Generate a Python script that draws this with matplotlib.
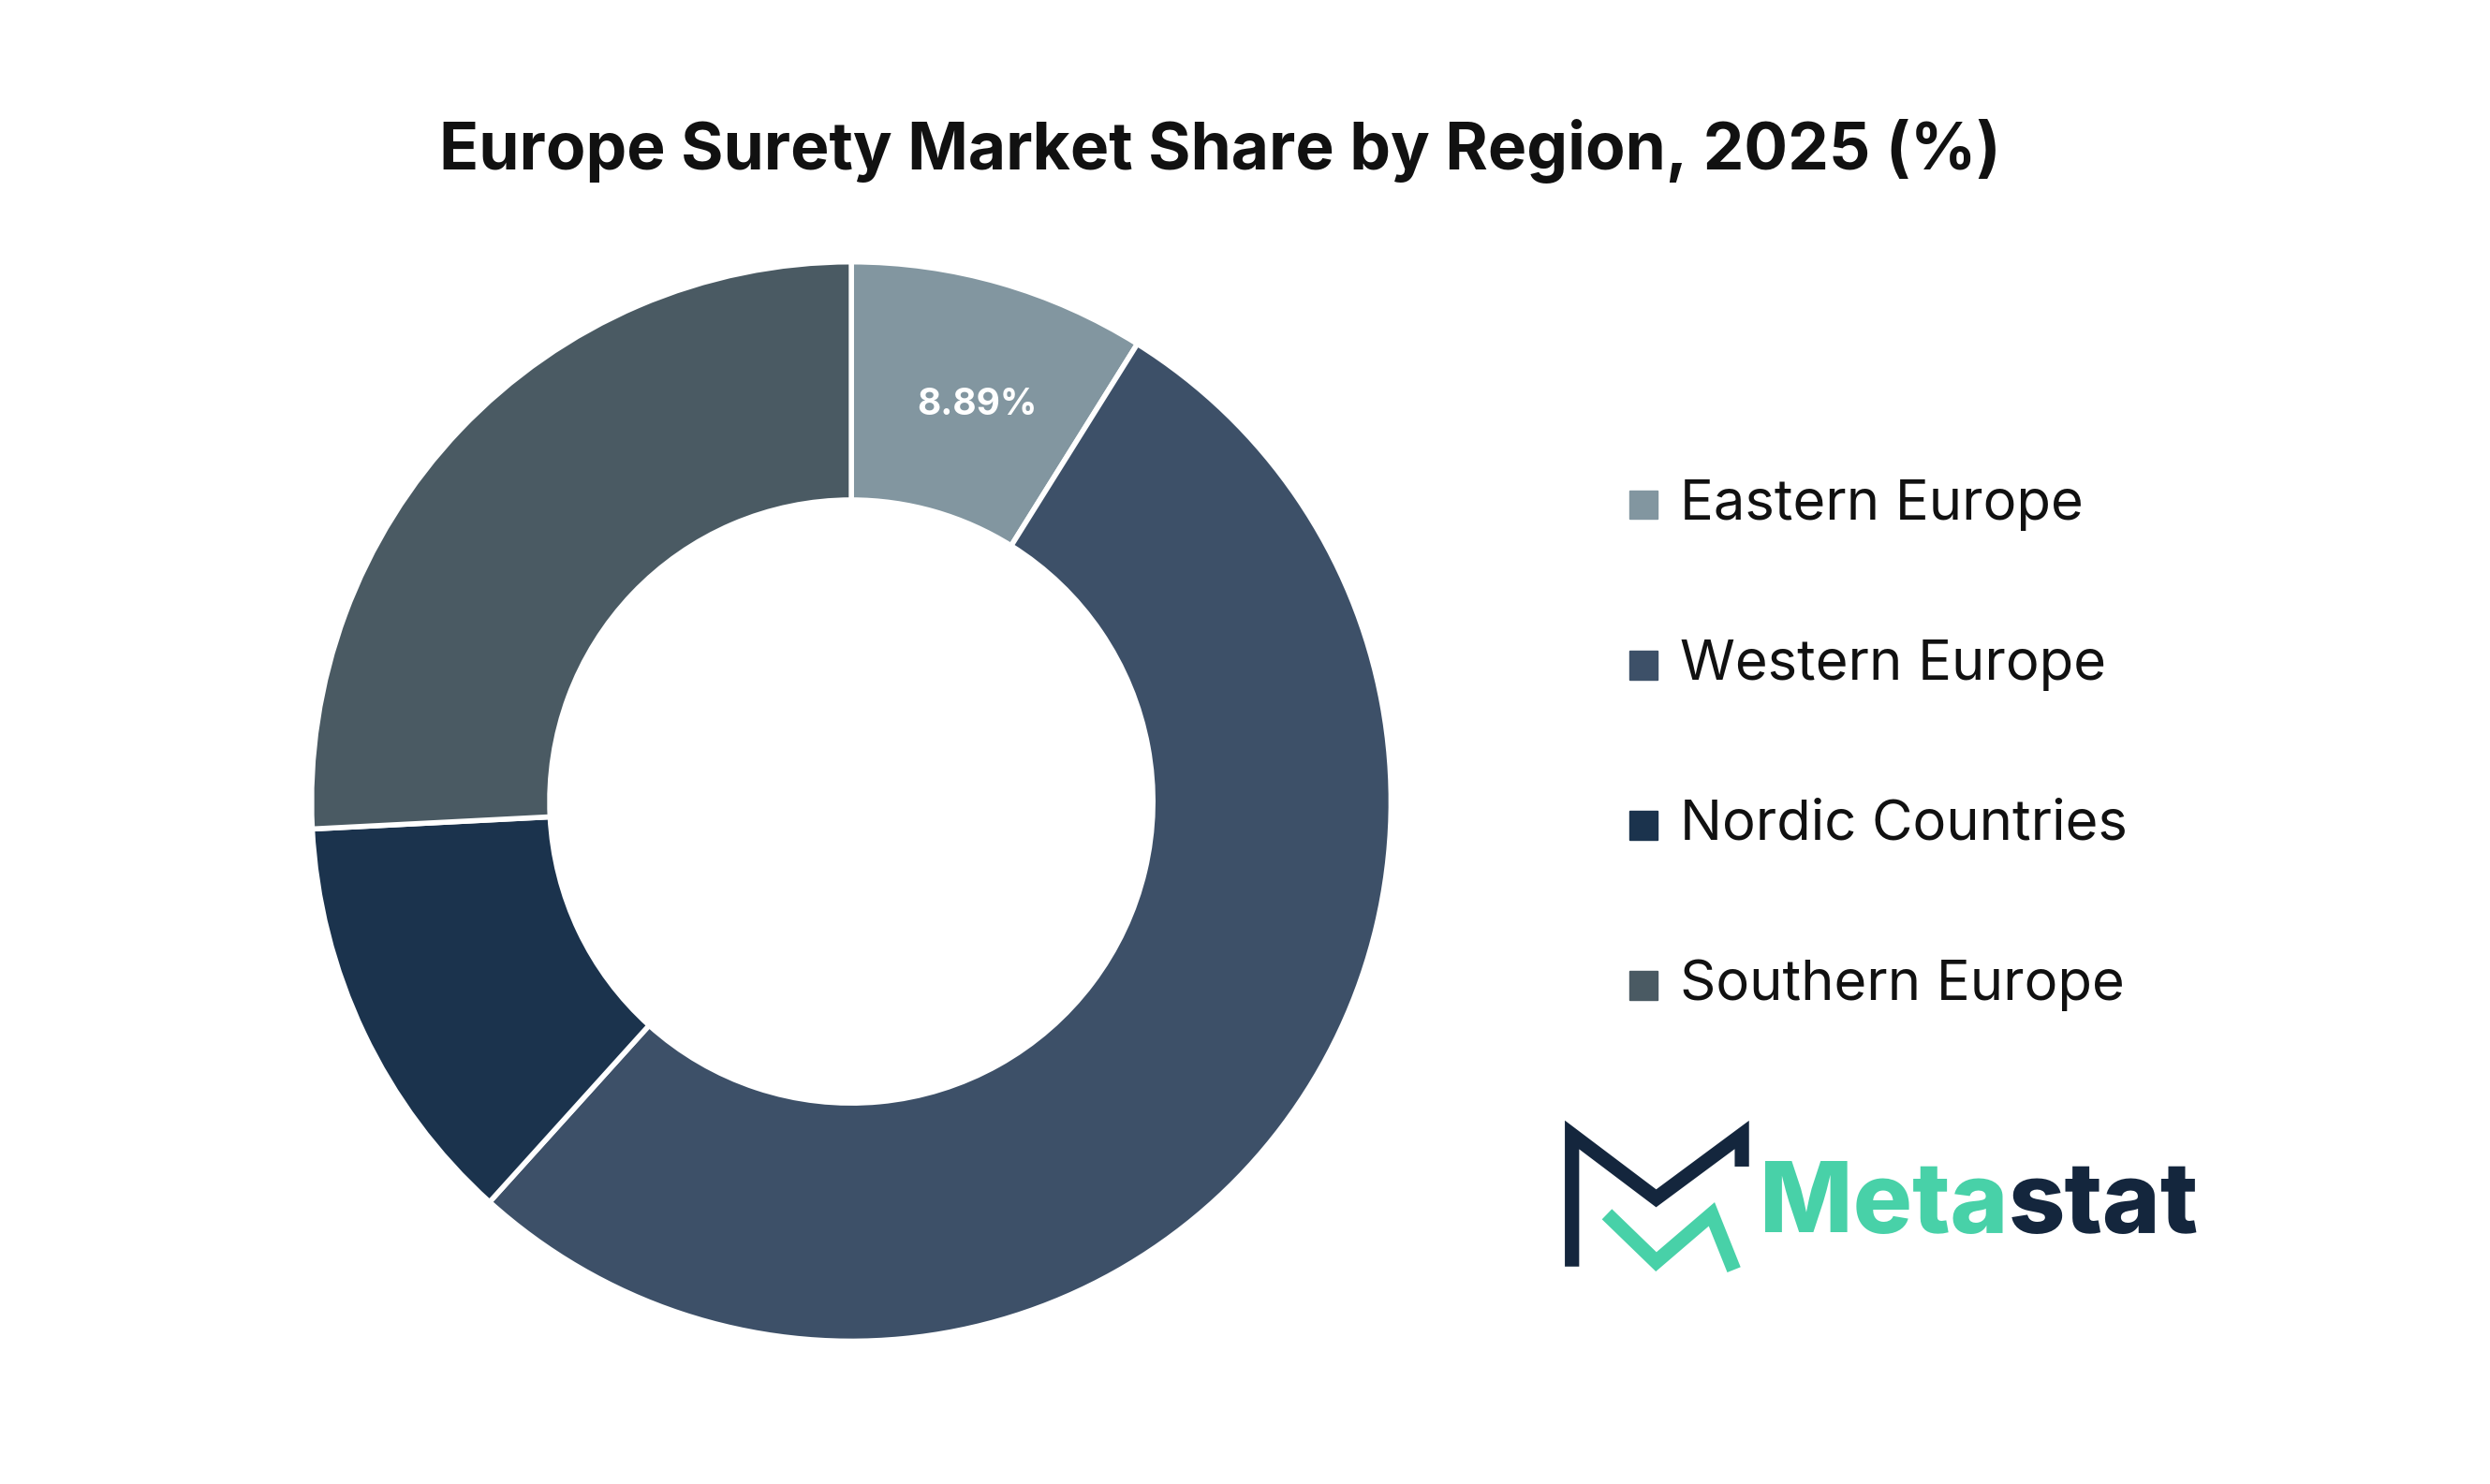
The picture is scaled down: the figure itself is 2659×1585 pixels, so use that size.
import matplotlib.pyplot as plt

plt.rcParams['font.family'] = ['Inter', 'DejaVu Sans']

# Data
regions = ['Eastern Europe', 'Western Europe', 'Nordic Countries', 'Southern Europe']
shares = [8.89, 52.8, 12.5, 25.81]
colors = ['#8296A0', '#3D5068', '#1B334D', '#4A5A63']

W, H = 1568, 935
fig = plt.figure(figsize=(26.59, 15.85), dpi=100)
ax = fig.add_axes([0, 0, 1, 1])


def Y(y):
    # reference pixel row -> data y (y up)
    return H - y


ax.pie(shares, colors=colors, startangle=90, counterclock=False,
       center=(536, Y(505)), radius=340,
       wedgeprops=dict(width=150, edgecolor='white', linewidth=4))
ax.set_xlim(0, W)
ax.set_ylim(0, H)
ax.set_aspect('equal')
ax.axis('off')

ax.text(615, Y(255), '8.89%', color='white', fontsize=28, fontweight='bold',
        ha='center', va='center')

ax.text(W / 2 - 16, Y(95), 'Europe Surety Market Share by Region, 2025 (%)',
        fontsize=50, fontweight='bold', ha='center', va='center', color='#111111')

# Legend
for i, (r, c) in enumerate(zip(regions, colors)):
    y = 318 + i * 101
    ax.add_patch(plt.Rectangle((1026, Y(y) - 9), 18, 18, color=c))
    ax.text(1058, Y(y), r, fontsize=43, va='center', ha='left', color='#111111')

# Logo
ax.plot([990, 990, 1043, 1097, 1097], [Y(798), Y(715), Y(755), Y(715), Y(735)],
        color='#14263D', linewidth=11, solid_joinstyle='miter', solid_capstyle='butt')
ax.plot([1012, 1043, 1078, 1092], [Y(765), Y(795), Y(765), Y(800)],
        color='#48D1A8', linewidth=11, solid_joinstyle='miter', solid_capstyle='butt')
meta = ax.text(1108, Y(760), 'Meta', fontsize=76, fontweight='heavy', color='#48D1A8',
               va='center', ha='left')
fig.canvas.draw()
bb = meta.get_window_extent().transformed(ax.transData.inverted())
ax.text(bb.x1, Y(760), 'stat', fontsize=76, fontweight='heavy', color='#14263D',
        va='center', ha='left')

fig.savefig('out.png', dpi=100, facecolor='white')
